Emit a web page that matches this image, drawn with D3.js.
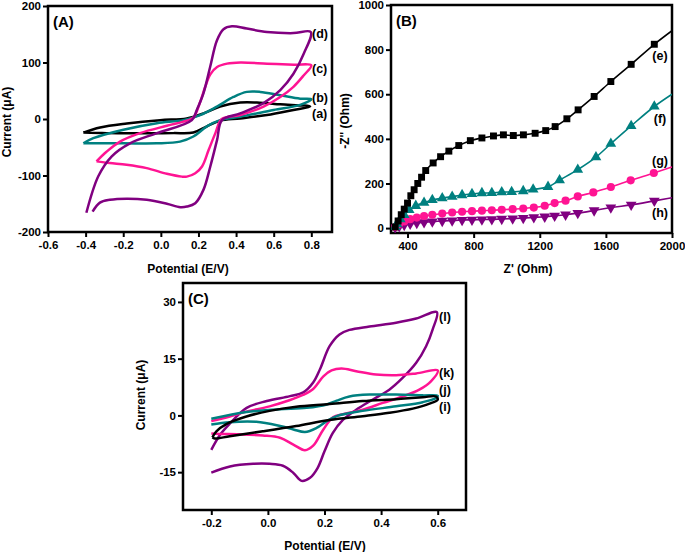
<!DOCTYPE html>
<html><head><meta charset="utf-8">
<script src="https://cdn.jsdelivr.net/npm/d3@7"></script>
<style>
body{margin:0;background:#fff;}
svg text{font-family:Arial,"Liberation Sans",sans-serif;font-weight:bold;fill:#000;}
</style></head>
<body><svg id="c" width="685" height="552"></svg>
<script>
// ---------- Panel A data (E / V, I / µA) ----------
const A_labels = ["(a)","(b)","(c)","(d)"];
const A_a = [[-0.412,-24],[-0.323,-15],[-0.181,-8],[-0.004,-2],[0.138,1],[0.227,10],[0.315,22],[0.422,29],[0.511,29],[0.635,26],[0.794,22],
  [0.705,16],[0.564,7],[0.422,1],[0.315,-3],[0.245,-13],[0.173,-24],[0.067,-25],[-0.11,-25],[-0.288,-25],[-0.412,-24]];
const A_b = [[-0.412,-43],[-0.359,-34],[-0.199,-19],[-0.021,-7.5],[0.12,-2],[0.209,7],[0.298,22],[0.386,39],[0.457,48],[0.528,48],[0.635,42],[0.741,36],[0.8,35],
  [0.741,25],[0.599,16],[0.422,4],[0.315,-2],[0.245,-13],[0.173,-31],[0.102,-40],[-0.021,-43],[-0.199,-43],[-0.412,-43]];
const A_c = [[-0.342,-75],[-0.289,-58],[-0.217,-40],[-0.111,-25],[0.032,-12],[0.138,-3],[0.174,3],[0.21,31],[0.236,57],[0.263,79],[0.299,92],[0.352,98],[0.423,100],[0.565,98],[0.708,96],[0.8,95],
  [0.759,77],[0.705,57],[0.635,39],[0.546,22],[0.422,7],[0.324,0],[0.29,-25],[0.254,-55],[0.219,-84],[0.183,-96],[0.138,-102],[0.112,-102],[0.032,-97],[-0.075,-87],[-0.182,-81],[-0.271,-78],[-0.342,-75]];
const A_d = [[-0.396,-166],[-0.332,-101],[-0.261,-66],[-0.164,-43],[-0.021,-25],[0.165,-2],[0.191,16],[0.226,45],[0.262,92],[0.298,139],[0.333,159],[0.378,164],[0.457,160],[0.564,154],[0.705,152],[0.797,154],
  [0.759,115],[0.705,80],[0.635,51],[0.546,28],[0.422,10],[0.325,-2],[0.299,-37],[0.263,-84],[0.227,-125],[0.183,-149],[0.138,-155],[0.103,-156],[0.032,-150],[-0.075,-143],[-0.182,-141],[-0.271,-143],[-0.324,-148],[-0.363,-164]];
const A_xTicks = [-0.6,-0.4,-0.2,0.0,0.2,0.4,0.6,0.8];
const A_yTicks = [-200,-100,0,100,200];

// ---------- Panel B data (Z' / Ohm, -Z'' / Ohm) ----------
const B_labels = ["(e)","(f)","(g)","(h)"];
const B_e = [[325,5],[343,32],[362,60],[380,85],[400,112],[420,145],[440,172],[462,200],[485,228],[510,258],[555,292],[600,320],[650,345],[710,370],[780,392],[850,404],[920,413],[980,418],[1040,415],[1101,418],[1172,425],[1236,437],[1293,455],[1364,490],[1432,530],[1529,590],[1630,657],[1753,734],[1893,824],[2000,885]];
const B_f = [[325,5],[336,19],[356,40],[380,59],[410,81],[450,100],[500,114],[550,126],[610,134],[670,141],[730,148],[790,153],[850,157],[910,158],[970,161],[1030,162],[1100,166],[1160,173],[1250,185],[1320,215],[1430,262],[1540,318],[1630,378],[1753,458],[1893,545],[2000,600]];
const B_g = [[325,5],[350,19],[380,30],[416,40],[456,47],[500,54],[550,60],[610,65],[670,70],[730,73],[790,76],[850,78],[910,80],[970,82],[1036,85],[1100,88],[1164,92],[1230,100],[1290,112],[1356,123],[1430,142],[1524,160],[1630,184],[1750,214],[1890,247],[2000,274]];
const B_h = [[325,3],[350,8],[380,14],[416,19],[456,23],[500,26],[550,29],[610,32],[670,34],[730,36],[790,37],[850,38],[910,39],[970,41],[1036,43],[1100,45],[1164,48],[1230,51],[1290,55],[1356,60],[1430,67],[1529,79],[1630,92],[1753,104],[1893,122],[2000,136]];
const B_xTicks = [400,800,1200,1600,2000];
const B_yTicks = [0,200,400,600,800,1000];

// ---------- Panel C data (E / V, I / µA) ----------
const C_labels = ["(i)","(j)","(k)","(l)"];
const C_i = [[-0.196,-5.8],[-0.182,-4.2],[-0.147,-2.3],[-0.076,-0.3],[0.006,1.2],[0.1,2.3],[0.218,3.0],[0.335,3.8],[0.453,4.3],[0.547,4.8],[0.594,5],[0.6,4.2],
  [0.571,3.1],[0.512,1.8],[0.429,0.7],[0.335,-0.2],[0.218,-1.2],[0.1,-2.8],[-0.018,-4.2],[-0.135,-5.5],[-0.188,-6.1],[-0.196,-5.8]];
const C_j = [[-0.2,-0.9],[-0.076,0.9],[0.041,1.6],[0.137,2.0],[0.208,2.9],[0.243,3.9],[0.288,5.0],[0.359,5.5],[0.453,5.5],[0.547,5.3],[0.6,5.2],
  [0.594,4.6],[0.547,3.5],[0.453,2.4],[0.335,1.2],[0.243,-0.2],[0.208,-1.5],[0.172,-3.3],[0.131,-4.4],[0.09,-3.7],[0.043,-2.8],[-0.041,-1.7],[-0.135,-1.8],[-0.2,-2.4]];
const C_k = [[-0.2,-1.5],[-0.135,-0.3],[-0.076,1.0],[0.006,2.4],[0.076,4.0],[0.124,5.4],[0.16,7.0],[0.196,10.3],[0.225,11.9],[0.26,12.4],[0.312,11.7],[0.382,10.8],[0.453,10.6],[0.524,11.1],[0.6,11.9],
  [0.576,9],[0.535,6.8],[0.476,5],[0.406,3.3],[0.335,1.5],[0.265,0.3],[0.231,-0.4],[0.196,-3.7],[0.16,-8.0],[0.131,-9.2],[0.09,-7.7],[0.043,-5.9],[-0.018,-5.3],[-0.1,-5],[-0.171,-4.9],[-0.2,-4.8]];
const C_l = [[-0.2,-9.1],[-0.169,-5.1],[-0.135,-2.2],[-0.075,2.0],[-0.004,3.8],[0.078,5.1],[0.125,6.1],[0.16,8.7],[0.184,12.2],[0.218,18.3],[0.253,21.4],[0.288,22.6],[0.359,23.5],[0.453,24.5],[0.524,25.6],[0.597,27.3],
  [0.582,22.7],[0.559,18.3],[0.524,13.9],[0.476,9.9],[0.429,6.8],[0.371,4.2],[0.312,1.5],[0.265,-1.2],[0.229,-4.7],[0.2,-9.5],[0.175,-14.0],[0.149,-16.5],[0.119,-17.3],[0.09,-15.2],[0.053,-13.3],[0.006,-12.8],[-0.052,-12.8],[-0.134,-13.5],[-0.2,-15.1]];
const C_xTicks = [-0.2,0.0,0.2,0.4,0.6];
const C_yTicks = [-15,0,15,30];

const colBlack="#000000", colTeal="#008080", colPink="#FF1493", colPurple="#800080";

const svg = d3.select("#c");
svg.append("rect").attr("width",685).attr("height",552).attr("fill","#fff");

function fmt(v,dec){ return v.toFixed(dec); }

function panel(opt){
  const g = svg.append("g");
  const x = d3.scaleLinear().domain(opt.xd).range(opt.xr);
  const y = d3.scaleLinear().domain(opt.yd).range(opt.yr);
  const id = "clip"+opt.name;
  svg.append("clipPath").attr("id",id).append("rect")
    .attr("x",opt.xr[0]).attr("y",opt.yr[1]).attr("width",opt.xr[1]-opt.xr[0]).attr("height",opt.yr[0]-opt.yr[1]);
  const ax = g.append("g").attr("transform",`translate(0,${opt.yr[0]})`)
    .call(d3.axisBottom(x).tickValues(opt.xt).tickSize(5).tickPadding(4).tickSizeOuter(0).tickFormat(d=>fmt(d,opt.xdec)));
  const ay = g.append("g").attr("transform",`translate(${opt.xr[0]},0)`)
    .call(d3.axisLeft(y).tickValues(opt.yt).tickSize(5).tickPadding(2).tickSizeOuter(0).tickFormat(d=>fmt(d,0)));
  [ax,ay].forEach(a=>{
    a.select(".domain").remove();
    a.selectAll(".tick line").attr("stroke","#000").attr("stroke-width",2);
    a.selectAll(".tick text").attr("font-size","11.5px").attr("font-weight","bold").attr("fill","#000")
      .attr("font-family","Arial, 'Liberation Sans', sans-serif");
  });
  g.append("rect").attr("x",opt.xr[0]).attr("y",opt.yr[1]).attr("width",opt.xr[1]-opt.xr[0]).attr("height",opt.yr[0]-opt.yr[1])
    .attr("fill","none").attr("stroke","#000").attr("stroke-width",2.5);
  const plot = g.append("g").attr("clip-path",`url(#${id})`);
  g.append("text").attr("x",opt.xr[0]+5).attr("y",opt.yr[1]+21).attr("font-size","15px").text(opt.title);
  g.append("text").attr("x",opt.xtitle[0]).attr("y",opt.xtitle[1]).attr("text-anchor","middle").attr("font-size","12px").text(opt.xlab);
  g.append("text").attr("transform",`translate(${opt.ytitle[0]},${opt.ytitle[1]}) rotate(-90)`).attr("text-anchor","middle").attr("font-size","12px").text(opt.ylab);
  return {x,y,plot,g};
}

// Panel A
const pA = panel({name:"A",xd:[-0.6,0.91],xr:[48,332],yd:[-200,200],yr:[232,6],xt:A_xTicks,yt:A_yTicks,xdec:1,
  title:"(A)",xlab:"Potential (E/V)",ylab:"Current (\u03bcA)",xtitle:[188,273],ytitle:[11,122]});
const lineA = d3.line().x(d=>pA.x(d[0])).y(d=>pA.y(d[1])).curve(d3.curveCatmullRom.alpha(0.5));
[[A_a,colBlack],[A_b,colTeal],[A_c,colPink],[A_d,colPurple]].forEach(([d,c])=>{
  pA.plot.append("path").attr("d",lineA(d)).attr("fill","none").attr("stroke",c).attr("stroke-width",2.5).attr("stroke-linejoin","round");
});
[[A_labels[3],33],[A_labels[2],68],[A_labels[1],97],[A_labels[0],113]].forEach(([t,yy])=>{
  pA.g.append("text").attr("x",312).attr("y",yy+4.5).attr("font-size","12.5px").text(t);
});

// Panel B
const pB = panel({name:"B",xd:[300,2000],xr:[391,672],yd:[-22,1000],yr:[233,5],xt:B_xTicks,yt:B_yTicks,xdec:0,
  title:"(B)",xlab:"Z' (Ohm)",ylab:"-Z'' (Ohm)",xtitle:[528,273],ytitle:[349,121]});
const lineB = d3.line().x(d=>pB.x(d[0])).y(d=>pB.y(d[1])).curve(d3.curveMonotoneX);
const symSq = d3.symbol().type(d3.symbolSquare).size(48);
const symTri = d3.symbol().type(d3.symbolTriangle).size(50);
const symCir = d3.symbol().type(d3.symbolCircle).size(52);
[[B_h,colPurple,symTri,180],[B_g,colPink,symCir,0],[B_f,colTeal,symTri,0],[B_e,colBlack,symSq,0]].forEach(([d,c,sym,rot])=>{
  pB.plot.append("path").attr("d",lineB(d)).attr("fill","none").attr("stroke",c).attr("stroke-width",1.6);
  pB.plot.selectAll(null).data(d.filter(p=>p[0]<1990)).enter().append("path")
    .attr("d",sym()).attr("fill",c)
    .attr("transform",p=>`translate(${pB.x(p[0])},${pB.y(p[1])}) rotate(${rot})`);
});
[[B_labels[0],55],[B_labels[1],118],[B_labels[2],160],[B_labels[3],212]].forEach(([t,yy])=>{
  pB.g.append("text").attr("x",660).attr("y",yy+4.5).attr("text-anchor","middle").attr("font-size","12.5px").text(t);
});

// Panel C
const pC = panel({name:"C",xd:[-0.3,0.7],xr:[183,466],yd:[-25,35],yr:[510,283],xt:C_xTicks,yt:C_yTicks,xdec:1,
  title:"(C)",xlab:"Potential (E/V)",ylab:"Current (\u03bcA)",xtitle:[325,550],ytitle:[145,395]});
const lineC = d3.line().x(d=>pC.x(d[0])).y(d=>pC.y(d[1])).curve(d3.curveCatmullRom.alpha(0.5));
[[C_l,colPurple],[C_k,colPink],[C_j,colTeal],[C_i,colBlack]].forEach(([d,c])=>{
  pC.plot.append("path").attr("d",lineC(d)).attr("fill","none").attr("stroke",c).attr("stroke-width",2.5).attr("stroke-linejoin","round");
});
[[C_labels[3],316],[C_labels[2],372],[C_labels[1],389],[C_labels[0],406]].forEach(([t,yy])=>{
  pC.g.append("text").attr("x",439).attr("y",yy+4.5).attr("font-size","12.5px").text(t);
});
</script></body></html>
